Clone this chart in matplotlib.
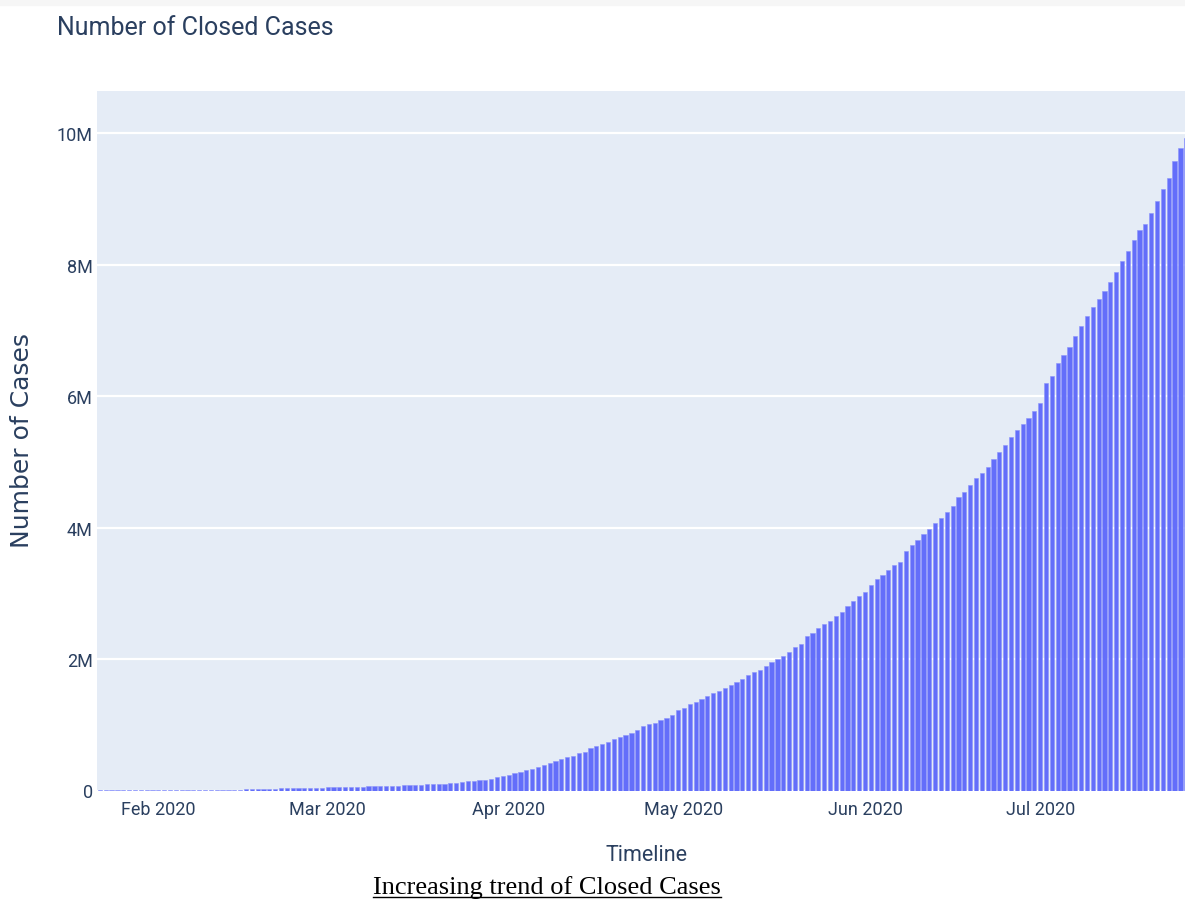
import numpy as np
import pandas as pd
from matplotlib import pyplot as plt
from matplotlib.lines import Line2D
from matplotlib.patches import Rectangle
from matplotlib.ticker import FuncFormatter
import matplotlib.dates as mdates

# cumulative closed cases (recovered + deaths), in thousands, one per day from 22 Jan 2020
start_date = "2020-01-22"
jan = [0.045, 0.048, 0.062, 0.081, 0.108, 0.143, 0.235, 0.258, 0.314, 0.435]
feb = [0.543, 0.834, 1.08, 1.60, 2.06, 2.60, 3.40, 4.30, 5.40, 6.30, 7.50, 8.20, 10.2, 12.6, 14.5,
       16.7, 19.1, 21.7, 24.1, 26.3, 27.0, 30.5, 31.5, 33.5, 35.8, 38.3, 41.2, 43.7, 44.8]
mar = [45.7, 48.1, 50.5, 53.3, 55.8, 58.1, 60.5, 62.3, 63.9, 66.0, 71, 72, 76, 80, 84, 88, 91, 94,
       96, 99, 104, 110, 117, 126, 137, 149, 158, 167, 178, 200, 222]
apr = [238, 264, 289, 309, 330, 355, 390, 421, 451, 477, 512, 532, 563, 593, 644, 679, 710, 735,
       776, 810, 840, 880, 920, 980, 1010, 1030, 1070, 1110, 1150, 1220]
may = [1260, 1310, 1340, 1390, 1440, 1480, 1520, 1560, 1610, 1650, 1700, 1750, 1800, 1840, 1900,
       1960, 2000, 2050, 2100, 2180, 2230, 2345, 2400, 2470, 2530, 2580, 2650, 2720, 2800, 2880, 2960]
jun = [3020, 3120, 3210, 3280, 3350, 3430, 3480, 3640, 3730, 3810, 3900, 3980, 4070, 4140, 4230,
       4330, 4460, 4540, 4640, 4760, 4830, 4920, 5040, 5150, 5260, 5370, 5480, 5570, 5670, 5780]
jul = [5900, 6200, 6310, 6500, 6630, 6750, 6910, 7070, 7210, 7350, 7480, 7600, 7740, 7890, 8050,
       8210, 8380, 8530, 8620, 8790, 8960, 9150, 9320, 9570, 9780, 9920, 10060]

closed_k = np.array(jan + feb + mar + apr + may + jun + jul)
closed = closed_k * 1000
dates = pd.date_range(start_date, periods=len(closed), freq="D")

y_ticks = [0, 2e6, 4e6, 6e6, 8e6, 10e6]
x_ticks = pd.to_datetime(["2020-02-01", "2020-03-01", "2020-04-01", "2020-05-01",
                          "2020-06-01", "2020-07-01"])

narrow = "Roboto"
txt_color = "#2a3f5f"

W, H = 1185, 903
fig = plt.figure(figsize=(W / 100, H / 100), dpi=100)
fig.patch.set_facecolor("white")
fig.patches.append(Rectangle((0, 1 - 6 / H), 1, 6 / H, transform=fig.transFigure,
                             color="#f6f6f6", zorder=0))

ax = fig.add_axes([97 / W, 1 - 791.5 / H, 1098 / W, (791.5 - 92) / H])
ax.set_facecolor("#E5ECF6")
ax.bar(dates, closed, width=0.72, color="#636EFA", edgecolor="#8c94fb", linewidth=0.4, zorder=3)

ax.set_xlim(pd.Timestamp("2020-01-21 12:00"), pd.Timestamp("2020-07-27 12:00"))
ax.set_ylim(0, 10.64e6)
ax.set_yticks(y_ticks)
ax.yaxis.set_major_formatter(FuncFormatter(lambda v, p: "0" if v == 0 else "%dM" % (v / 1e6)))
ax.set_xticks(x_ticks)
ax.xaxis.set_major_formatter(mdates.DateFormatter("%b %Y"))
ax.grid(axis="y", color="white", linewidth=1.6, zorder=1)
ax.set_axisbelow(True)
for s in ax.spines.values():
    s.set_visible(False)
ax.tick_params(axis="both", length=0, labelcolor=txt_color, labelsize=13)
ax.tick_params(axis="y", pad=3)
ax.tick_params(axis="x", pad=7)
for lab in ax.get_xticklabels() + ax.get_yticklabels():
    lab.set_family(narrow)

fig.text(57 / W, 1 - 28 / H, "Number of Closed Cases", family=narrow, fontsize=18,
         color=txt_color, va="center", ha="left")
fig.text(646 / W, 1 - 856 / H, "Timeline", family=narrow, fontsize=15.5,
         color=txt_color, va="center", ha="center")
fig.text(22 / W, 1 - 441 / H, "Number of Cases", family="DejaVu Sans", fontsize=18,
         color=txt_color, va="center", ha="center", rotation=90)

cap = fig.text(547 / W, 1 - 888 / H, "Increasing trend of Closed Cases",
               family="Liberation Serif", fontsize=19, color="black", va="center", ha="center")
fig.canvas.draw()
bb = cap.get_window_extent(fig.canvas.get_renderer())
uy = (bb.y0 + 1) / H
fig.lines.append(Line2D([bb.x0 / W, bb.x1 / W], [uy, uy], transform=fig.transFigure,
                        color="black", linewidth=1))

fig.savefig("out.png", dpi=100)
